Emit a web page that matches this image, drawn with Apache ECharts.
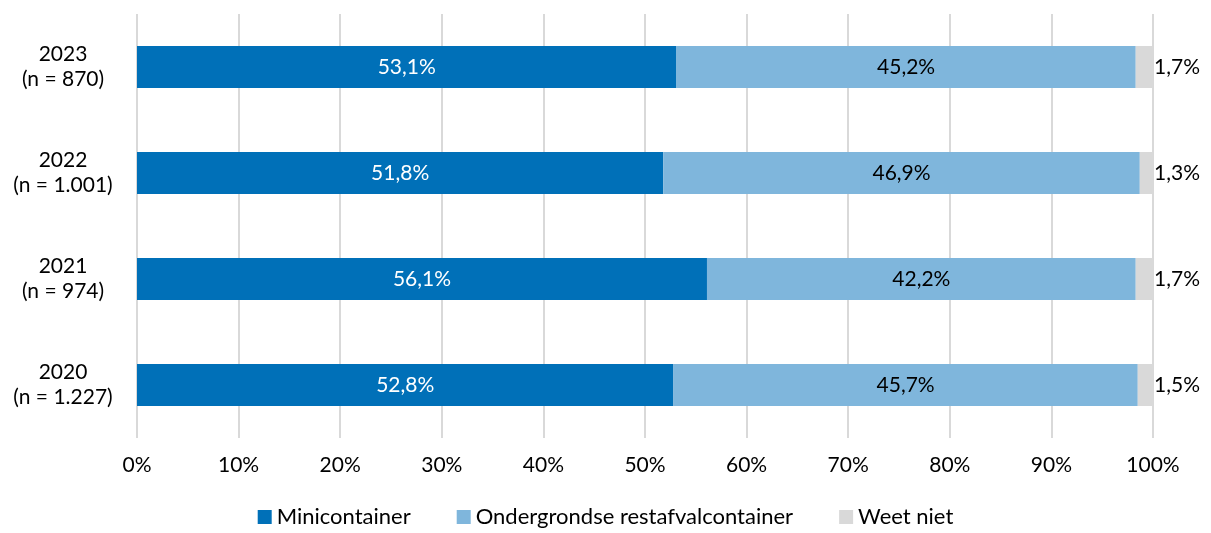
<!DOCTYPE html>
<html>
<head>
<meta charset="utf-8">
<script src="https://cdn.jsdelivr.net/npm/echarts@6/dist/echarts.min.js"></script>
<style>html,body{margin:0;padding:0;background:#fff}#c{width:1211px;height:533px}</style>
</head>
<body>
<div id="c"></div>
<script>
const categories = ['2020\n(n = 1.227)', '2021\n(n = 974)', '2022\n(n = 1.001)', '2023\n(n = 870)'];
const seriesNames = ['Minicontainer', 'Ondergrondse restafvalcontainer', 'Weet niet'];
const minicontainer = [52.8, 56.1, 51.8, 53.1];
const ondergronds = [45.7, 42.2, 46.9, 45.2];
const weetNiet = [1.5, 1.7, 1.3, 1.7];

const FONT = 'Lato';
const FS = 21;
const fmt = p => p.value.toFixed(1).replace('.', ',') + '%';

const chart = echarts.init(document.getElementById('c'));
chart.setOption({
  animation: false,
  textStyle: { fontFamily: FONT },
  grid: { left: 137, right: 58, top: 14, bottom: 95, containLabel: false },
  legend: {
    bottom: 0, left: 'center', itemWidth: 14, itemHeight: 14, itemGap: 46,
    icon: 'rect',
    textStyle: { fontFamily: FONT, fontSize: 22, color: '#000' },
    data: seriesNames
  },
  xAxis: {
    type: 'value', min: 0, max: 100, interval: 10,
    axisLine: { show: false }, axisTick: { show: false },
    splitLine: { lineStyle: { color: '#d9d9d9', width: 2 } },
    axisLabel: { formatter: v => v + '%', fontSize: FS, color: '#000', margin: 17, fontFamily: FONT }
  },
  yAxis: {
    type: 'category', data: categories,
    axisLine: { show: false }, axisTick: { show: false },
    axisLabel: { align: 'center', margin: 74, fontSize: FS, lineHeight: 25, color: '#000', fontFamily: FONT }
  },
  series: [
    { name: seriesNames[0], type: 'bar', stack: 's', data: minicontainer, barWidth: 42,
      itemStyle: { color: '#0070b8' },
      label: { show: true, position: 'inside', color: '#fff', fontSize: FS, formatter: fmt, fontFamily: FONT } },
    { name: seriesNames[1], type: 'bar', stack: 's', data: ondergronds, barWidth: 42,
      itemStyle: { color: '#7fb6dc' },
      label: { show: true, position: 'inside', color: '#000', fontSize: FS, formatter: fmt, fontFamily: FONT } },
    { name: seriesNames[2], type: 'bar', stack: 's', data: weetNiet, barWidth: 42,
      itemStyle: { color: '#d9d9d9' },
      label: { show: true, position: 'right', distance: 1, color: '#000', fontSize: FS, formatter: fmt, fontFamily: FONT } }
  ]
});
</script>
</body>
</html>
